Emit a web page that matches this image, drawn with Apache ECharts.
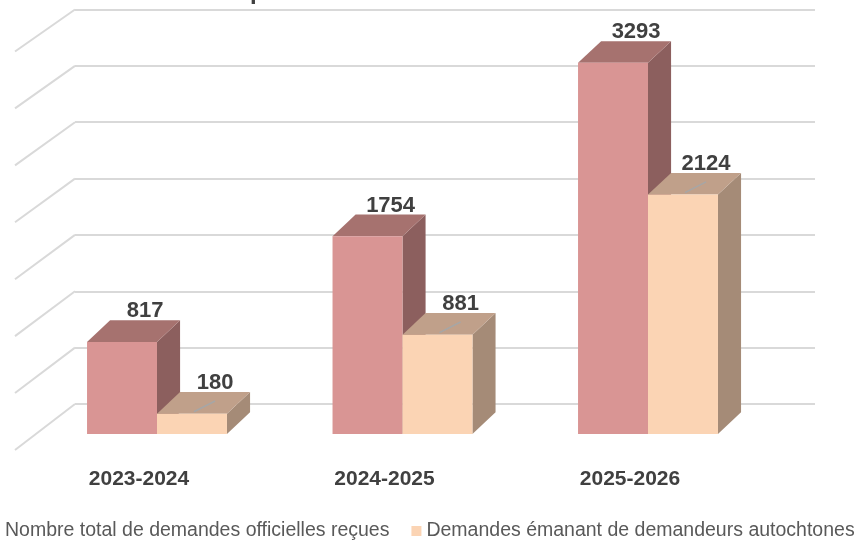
<!DOCTYPE html>
<html><head><meta charset="utf-8">
<script src="https://cdn.jsdelivr.net/npm/echarts@6/dist/echarts.min.js"></script>
<style>html,body{margin:0;padding:0;background:#fff}#c{width:863px;height:543px}</style>
</head><body><div id="c"></div>
<script>
const categories = ['2023-2024', '2024-2025', '2025-2026'];
const totalRequests = [817, 1754, 3293];
const indigenousRequests = [180, 881, 2124];
const seriesNames = ['Nombre total de demandes officielles reçues', 'Demandes émanant de demandeurs autochtones'];
const gridValues = [0, 500, 1000, 1500, 2000, 2500, 3000, 3500];

const styles = [
  { front: '#D99594', top: '#A6726F', side: '#8C5F5E' },
  { front: '#FBD4B4', top: '#C0A08A', side: '#A58B77' }
];

function boxRenderer(sIdx) {
  return function (params, api) {
    const idx = api.value(0);
    const val = api.value(1);
    const band = api.size([1, 0])[0];
    const w = band * 0.285;
    const dx = w * 0.33, dy = w * 0.31;
    const pTop = api.coord([idx, val]);
    const pBase = api.coord([idx, 0]);
    const x0 = sIdx === 0 ? pTop[0] - w : pTop[0];
    const x1 = x0 + w;
    const yT = pTop[1], yB = pBase[1];
    const st = styles[sIdx];
    const children = [
      { type: 'polygon', shape: { points: [[x1, yT], [x1 + dx, yT - dy], [x1 + dx, yB - dy], [x1, yB]] }, style: { fill: st.side } },
      { type: 'polygon', shape: { points: [[x0, yT], [x0 + dx, yT - dy], [x1 + dx, yT - dy], [x1, yT]] }, style: { fill: st.top } },
      { type: 'rect', shape: { x: x0, y: yT, width: w, height: yB - yT }, style: { fill: st.front } }
    ];
    if (sIdx === 1) {
      children.push({ type: 'line', shape: { x1: (x0 + x1) / 2 + 2, y1: yT - 2, x2: (x0 + x1) / 2 + dx, y2: yT - dy + 9 },
        style: { stroke: '#A6A6A6', lineWidth: 1.5 } });
    }
    children.push({ type: 'text', style: { text: String(val), x: (x0 + x1) / 2 + dx, y: yT - dy + 2, align: 'center', verticalAlign: 'bottom',
          font: 'bold 22px "Liberation Sans", Arial, sans-serif', fill: '#404040' } });
    return { type: 'group', children };
  };
}

const chart = echarts.init(document.getElementById('c'), null, { renderer: 'canvas' });
chart.setOption({
  animation: false,
  textStyle: { fontFamily: '"Liberation Sans", Arial, sans-serif' },
  graphic: [{ type: 'text', left: 250, top: -20, style: { text: 'p', font: 'bold 24px "Liberation Sans", Arial, sans-serif', fill: '#404040' } }],
  legend: {
    data: seriesNames, bottom: -3, left: -15, itemWidth: 10, itemHeight: 10, itemGap: 22,
    icon: 'rect', textStyle: { fontSize: 19.5, color: '#595959' }
  },
  grid: [
    { left: 34.25, right: 92.25, top: 39.5, bottom: 109 },
    { left: 75, right: 48, top: 9.5, bottom: 139 }
  ],
  xAxis: [
    { gridIndex: 0, type: 'category', data: categories, axisLine: { show: false }, axisTick: { show: false },
      axisLabel: { margin: 35, fontSize: 21, fontWeight: 'bold', color: '#404040', padding: [0, 36, 0, 0] } },
    { gridIndex: 1, type: 'value', min: 0, max: 1, show: false }
  ],
  yAxis: [
    { gridIndex: 0, type: 'value', min: 0, max: 3500, show: false },
    { gridIndex: 1, type: 'value', min: 0, max: 3500, interval: 500, axisLine: { show: false }, axisTick: { show: false },
      axisLabel: { show: false }, splitLine: { lineStyle: { color: '#D9D9D9', width: 2 } } }
  ],
  series: [
    { type: 'custom', xAxisIndex: 1, yAxisIndex: 1, silent: true,
      data: gridValues.map(v => [0, v]),
      renderItem: function (params, api) {
        const p = api.coord([0, api.value(1)]);
        const d = 46 - 4 * api.value(1) / 3500;
        return { type: 'line', shape: { x1: p[0], y1: p[1], x2: p[0] - 60, y2: p[1] + d }, style: { stroke: '#D9D9D9', lineWidth: 2 } };
      }
    },
    { name: seriesNames[0], type: 'custom', xAxisIndex: 0, yAxisIndex: 0, itemStyle: { color: styles[0].front },
      data: totalRequests.map((v, i) => [i, v]), renderItem: boxRenderer(0), encode: { x: 0, y: 1 } },
    { name: seriesNames[1], type: 'custom', xAxisIndex: 0, yAxisIndex: 0, itemStyle: { color: styles[1].front },
      data: indigenousRequests.map((v, i) => [i, v]), renderItem: boxRenderer(1), encode: { x: 0, y: 1 } }
  ]
});
</script></body></html>
